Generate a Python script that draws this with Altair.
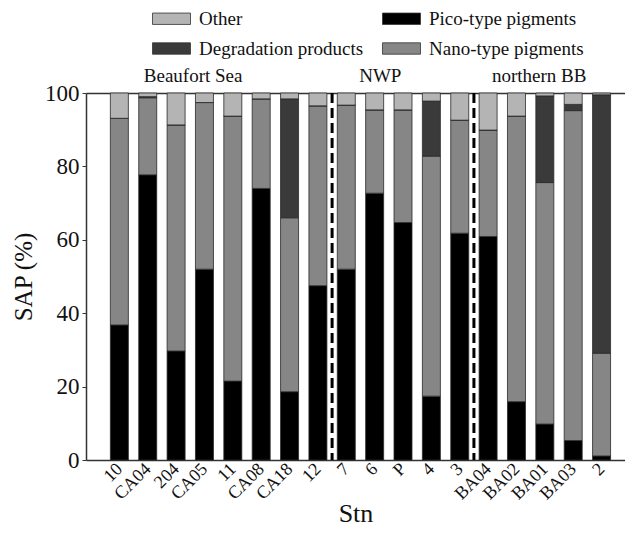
import altair as alt
import pandas as pd

# ---------------- data ----------------
stations = ["10", "CA04", "204", "CA05", "11", "CA08", "CA18", "12", "7",
            "6", "P", "4", "3", "BA04", "BA02", "BA01", "BA03", "2"]
pico = [36.8, 77.7, 29.7, 52.0, 21.5, 74.0, 18.6, 47.5, 52.0,
        72.7, 64.7, 17.4, 61.8, 60.9, 15.9, 9.8, 5.3, 1.1]
nano = [56.3, 21.0, 61.6, 45.4, 72.2, 24.4, 47.4, 49.0, 44.7,
        22.7, 30.7, 65.4, 30.8, 29.0, 77.8, 65.8, 89.9, 28.0]
degradation = [0.0, 0.3, 0.0, 0.0, 0.0, 0.0, 32.4, 0.0, 0.0,
               0.0, 0.0, 15.0, 0.0, 0.0, 0.0, 23.6, 1.7, 70.4]
other = [6.9, 1.0, 8.7, 2.6, 6.3, 1.6, 1.6, 3.5, 3.3,
         4.6, 4.6, 2.2, 7.4, 10.1, 6.3, 0.8, 3.1, 0.5]

categories = ["Pico-type pigments", "Nano-type pigments",
              "Degradation products", "Other"]
# legend fills column by column
legend_order = ["Other", "Degradation products",
                "Pico-type pigments", "Nano-type pigments"]
colors = {"Other": "#b4b4b4", "Pico-type pigments": "#000000",
          "Degradation products": "#3a3a3a", "Nano-type pigments": "#868686"}

region_names = ["Beaufort Sea", "NWP", "northern BB"]
region_pos = [3.6, 10.2, 15.8]
region_y = [104.6, 104.6, 104.6]
separators = [8.5, 13.5]

# ---------------- tables ----------------
rows = []
series = {"Pico-type pigments": pico, "Nano-type pigments": nano,
          "Degradation products": degradation, "Other": other}
for i, st in enumerate(stations):
    for k, cat in enumerate(categories):
        rows.append({"idx": i + 1, "Stn": st, "cat": cat,
                     "val": series[cat][i], "ord": k})
df = pd.DataFrame(rows)
reg_df = pd.DataFrame({"x": region_pos, "y": region_y, "label": region_names})
sep_df = pd.DataFrame({"x": separators})

FONT = "Liberation Serif"
xscale = alt.Scale(domain=[0, 18.65], nice=False, zero=False)
yscale = alt.Scale(domain=[0, 100], nice=False)
label_expr = "[" + ",".join("'%s'" % s for s in stations) + "][datum.value - 1]"

bars = alt.Chart(df).mark_bar(size=18, stroke="#2a2a2a", strokeWidth=0.8).encode(
    x=alt.X("idx:Q", scale=xscale,
            axis=alt.Axis(values=list(range(1, 19)), labelExpr=label_expr,
                          labelAngle=-45, labelAlign="right", labelBaseline="middle",
                          labelFont=FONT, labelFontSize=18, labelColor="#111",
                          labelPadding=6, labelOverlap=False, ticks=False, grid=False,
                          domainColor="#333", domainWidth=1.5,
                          title="Stn", titleFont=FONT, titleFontSize=26,
                          titleFontWeight="normal", titleColor="#111",
                          titleY=61, titleBaseline="alphabetic")),
    y=alt.Y("val:Q", stack="zero", scale=yscale,
            axis=alt.Axis(values=[0, 20, 40, 60, 80, 100], tickSize=4,
                          tickColor="#333", domainColor="#333", domainWidth=1.5,
                          labelFont=FONT, labelFontSize=23, labelColor="#111",
                          labelPadding=3, grid=False, orient="left",
                          title="SAP (%)", titleFont=FONT, titleFontSize=25,
                          titleFontWeight="normal", titleColor="#111",
                          titlePadding=8)),
    color=alt.Color("cat:N",
                    scale=alt.Scale(domain=legend_order,
                                    range=[colors[c] for c in legend_order]),
                    legend=alt.Legend(orient="none", legendX=66, legendY=-94,
                                      columns=2, title=None,
                                      symbolType="M-1,-0.3H1V0.3H-1Z",
                                      symbolSize=1444, symbolStrokeColor="#333",
                                      symbolStrokeWidth=0.8, symbolOpacity=1,
                                      labelFont=FONT, labelFontSize=19,
                                      labelColor="#111", labelOffset=8,
                                      labelLimit=400,
                                      rowPadding=-6, columnPadding=16,
                                      padding=0)),
    order=alt.Order("ord:Q", sort="ascending"),
)

seps = alt.Chart(sep_df).mark_rule(color="#000", strokeWidth=3,
                                   strokeDash=[10, 5]).encode(
    x=alt.X("x:Q", scale=xscale, axis=None),
)

regions = alt.Chart(reg_df).mark_text(font=FONT, fontSize=19, color="#111",
                                      baseline="middle", align="center").encode(
    x=alt.X("x:Q", scale=xscale,
            axis=alt.Axis(orient="top", labels=False, ticks=False, title=None,
                          grid=False, domainColor="#333", domainWidth=1.5)),
    y=alt.Y("y:Q", scale=yscale, axis=None),
    text="label:N",
)

chart = alt.layer(bars, seps, regions).resolve_axis(
    x="independent", y="independent"
).properties(
    width=539, height=367, autosize="none",
    padding={"left": 78, "top": 85, "right": 0, "bottom": 68},
).configure_view(stroke=None).configure(background="white")

chart.save("out.html", embed_options={"renderer": "svg", "actions": False})
